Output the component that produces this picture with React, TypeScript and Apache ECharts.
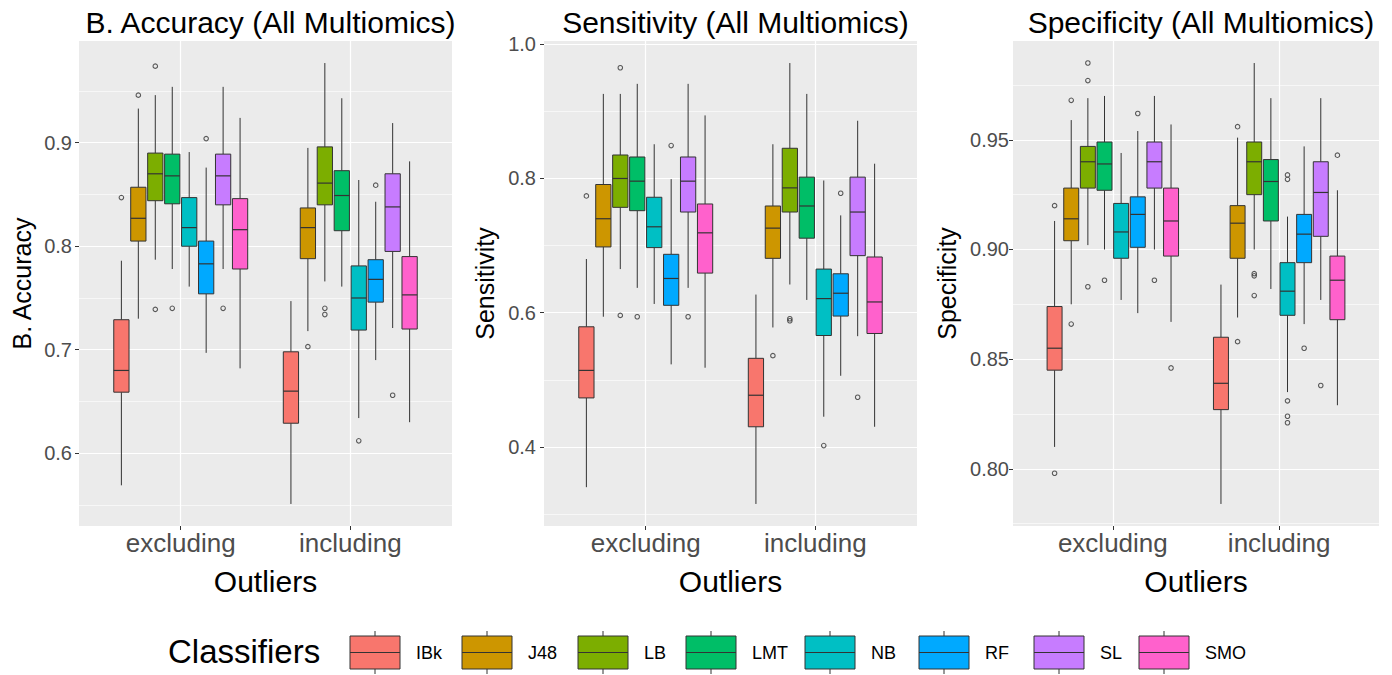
import { useEffect, useRef } from 'react';
import * as echarts from 'echarts';

const classifiers = ['IBk', 'J48', 'LB', 'LMT', 'NB', 'RF', 'SL', 'SMO'];
const groups = ['excluding', 'including'];
const colors = ['#F8766D', '#CD9600', '#7CAE00', '#00BE67', '#00BFC4', '#00A9FF', '#C77CFF', '#FF61CC'];

// each row: [lower whisker, Q1, median, Q3, upper whisker], one row per classifier
const accExcluding = [
  [0.569, 0.659, 0.680, 0.729, 0.786],
  [0.730, 0.805, 0.827, 0.857, 0.933],
  [0.787, 0.844, 0.870, 0.890, 0.946],
  [0.778, 0.841, 0.868, 0.889, 0.954],
  [0.761, 0.800, 0.818, 0.847, 0.891],
  [0.697, 0.754, 0.783, 0.805, 0.876],
  [0.778, 0.840, 0.868, 0.889, 0.954],
  [0.682, 0.778, 0.816, 0.846, 0.924],
];
const accIncluding = [
  [0.551, 0.629, 0.660, 0.698, 0.747],
  [0.718, 0.788, 0.818, 0.837, 0.895],
  [0.766, 0.840, 0.861, 0.896, 0.977],
  [0.761, 0.815, 0.849, 0.873, 0.943],
  [0.634, 0.719, 0.750, 0.781, 0.864],
  [0.690, 0.746, 0.768, 0.787, 0.843],
  [0.721, 0.795, 0.838, 0.870, 0.919],
  [0.630, 0.720, 0.753, 0.790, 0.882],
];
const accOutliersExcluding = [[0.847], [0.946], [0.974, 0.739], [0.740], [], [0.904], [0.740], []];
const accOutliersIncluding = [[], [0.703], [0.740, 0.734], [], [0.612], [0.859], [0.656], []];

const sensExcluding = [
  [0.340, 0.473, 0.514, 0.579, 0.680],
  [0.594, 0.698, 0.740, 0.791, 0.926],
  [0.665, 0.757, 0.800, 0.835, 0.926],
  [0.637, 0.752, 0.796, 0.832, 0.941],
  [0.613, 0.697, 0.728, 0.772, 0.851],
  [0.523, 0.611, 0.651, 0.687, 0.799],
  [0.637, 0.750, 0.796, 0.832, 0.941],
  [0.518, 0.659, 0.719, 0.762, 0.894],
];
const sensIncluding = [
  [0.315, 0.430, 0.477, 0.532, 0.627],
  [0.578, 0.681, 0.726, 0.759, 0.851],
  [0.642, 0.750, 0.786, 0.845, 0.972],
  [0.619, 0.711, 0.759, 0.802, 0.926],
  [0.445, 0.566, 0.621, 0.665, 0.797],
  [0.506, 0.595, 0.629, 0.658, 0.745],
  [0.565, 0.685, 0.750, 0.802, 0.886],
  [0.430, 0.569, 0.616, 0.683, 0.822],
];
const sensOutliersExcluding = [[0.774], [], [0.965, 0.596], [0.594], [], [0.849], [0.594], []];
const sensOutliersIncluding = [[], [0.536], [0.591, 0.588], [], [0.402], [0.778], [0.474], []];

const specExcluding = [
  [0.810, 0.845, 0.855, 0.874, 0.913],
  [0.875, 0.904, 0.914, 0.928, 0.959],
  [0.902, 0.928, 0.940, 0.947, 0.969],
  [0.900, 0.927, 0.939, 0.949, 0.970],
  [0.877, 0.896, 0.908, 0.921, 0.944],
  [0.871, 0.901, 0.916, 0.924, 0.954],
  [0.900, 0.928, 0.940, 0.949, 0.970],
  [0.867, 0.897, 0.913, 0.928, 0.957],
];
const specIncluding = [
  [0.784, 0.827, 0.839, 0.860, 0.884],
  [0.869, 0.896, 0.912, 0.920, 0.951],
  [0.900, 0.925, 0.940, 0.949, 0.985],
  [0.882, 0.913, 0.931, 0.941, 0.969],
  [0.835, 0.870, 0.881, 0.894, 0.915],
  [0.866, 0.894, 0.907, 0.916, 0.947],
  [0.877, 0.906, 0.926, 0.940, 0.969],
  [0.829, 0.868, 0.886, 0.897, 0.927],
];
const specOutliersExcluding = [[0.920, 0.798], [0.968, 0.866], [0.985, 0.977, 0.883], [0.886], [], [0.962], [0.886], [0.846]];
const specOutliersIncluding = [[], [0.956, 0.858], [0.889, 0.888, 0.879], [], [0.934, 0.932, 0.831, 0.824, 0.821], [0.855], [0.838], [0.943]];

const accMajorTicks = [0.6, 0.7, 0.8, 0.9];
const accMinorTicks = [0.55, 0.65, 0.75, 0.85, 0.95];
const sensMajorTicks = [0.4, 0.6, 0.8, 1.0];
const sensMinorTicks = [0.3, 0.5, 0.7, 0.9];
const specMajorTicks = [0.8, 0.85, 0.9, 0.95];
const specMinorTicks = [0.775, 0.825, 0.875, 0.925, 0.975];

const panels = [
  { title: 'B. Accuracy (All Multiomics)', yName: 'B. Accuracy', excl: accExcluding, incl: accIncluding, outExcl: accOutliersExcluding, outIncl: accOutliersIncluding, major: accMajorTicks, minor: accMinorTicks, decimals: 1 },
  { title: 'Sensitivity (All Multiomics)', yName: 'Sensitivity', excl: sensExcluding, incl: sensIncluding, outExcl: sensOutliersExcluding, outIncl: sensOutliersIncluding, major: sensMajorTicks, minor: sensMinorTicks, decimals: 1 },
  { title: 'Specificity (All Multiomics)', yName: 'Specificity', excl: specExcluding, incl: specIncluding, outExcl: specOutliersExcluding, outIncl: specOutliersIncluding, major: specMajorTicks, minor: specMinorTicks, decimals: 2 },
];

// layout (pixels)
const layout = [
  { left: 79, width: 373, nameGap: 45, labelMargin: 7 },
  { left: 544, width: 373, nameGap: 47, labelMargin: 8 },
  { left: 1013, width: 366, nameGap: 54, labelMargin: 4 },
];
const gridTop = 41;
const gridHeight = 485;
const legendKeyX = [350, 462, 578, 686, 805, 919, 1034, 1139];
const legendY = 636;
const FONT = "'Liberation Sans', Arial, Helvetica, sans-serif";

const DODGE = 0.8;
const BOX_FRAC = 0.9;
const nCls = classifiers.length;
const dodgeOffset = (i: number) => (i - (nCls - 1) / 2) * (DODGE / nCls);

function buildOption() {
  const grid: any[] = [];
  const xAxis: any[] = [];
  const yAxis: any[] = [];
  const series: any[] = [];
  const title: any[] = [];

  panels.forEach((p, k) => {
    const L = layout[k];
    grid.push({
      left: L.left, top: gridTop, width: L.width, height: gridHeight,
      show: true, backgroundColor: '#EBEBEB', borderWidth: 0,
      containLabel: false, outerBoundsMode: 'none',
    });
    title.push({
      text: p.title, left: L.left + L.width / 2, top: 2, textAlign: 'center',
      textStyle: { fontSize: 30, fontWeight: 'normal', color: '#000', fontFamily: FONT },
    });
    // data extent with ggplot-like 5% expansion
    const all: number[] = [];
    [p.excl, p.incl].forEach((arr) => arr.forEach((r) => all.push(...r)));
    [p.outExcl, p.outIncl].forEach((arr) => arr.forEach((r) => all.push(...r)));
    const dmin = Math.min(...all);
    const dmax = Math.max(...all);
    const pad = (dmax - dmin) * 0.05;

    xAxis.push({
      type: 'value', gridIndex: k, min: 0.4, max: 2.6,
      axisLine: { show: false },
      axisTick: { show: true, length: 4, lineStyle: { color: '#333333', width: 1 }, customValues: [1, 2] },
      axisLabel: {
        customValues: [1, 2], margin: 4, fontSize: 26, color: '#4D4D4D', fontFamily: FONT,
        formatter: (v: number) => groups[Math.round(v) - 1] ?? '',
      },
      splitLine: { show: true, lineStyle: { color: '#FFFFFF', width: 1.2 } },
      name: 'Outliers', nameLocation: 'middle', nameGap: 40,
      nameTextStyle: { fontSize: 30, color: '#000', fontFamily: FONT },
    });
    yAxis.push({
      type: 'value', gridIndex: k, min: dmin - pad, max: dmax + pad,
      axisLine: { show: false },
      axisTick: { show: true, length: 4, lineStyle: { color: '#333333', width: 1 }, customValues: p.major },
      axisLabel: {
        customValues: p.major, margin: L.labelMargin, fontSize: 20, color: '#4D4D4D', fontFamily: FONT,
        formatter: (v: number) => v.toFixed(p.decimals),
      },
      splitLine: { show: true, lineStyle: { color: '#FFFFFF', width: 1.2 } },
      name: p.yName, nameLocation: 'middle', nameGap: L.nameGap, nameRotate: 90,
      nameTextStyle: { fontSize: 25, color: '#000', fontFamily: FONT },
      z: 1,
    });
    yAxis.push({
      type: 'value', gridIndex: k, min: dmin - pad, max: dmax + pad,
      axisLine: { show: false },
      axisTick: { show: false, customValues: p.minor },
      axisLabel: { show: false, customValues: p.minor },
      splitLine: { show: true, lineStyle: { color: '#FFFFFF', width: 0.6 } },
      z: 0,
    });

    classifiers.forEach((name, i) => {
      const boxData = [
        [1, ...p.excl[i]],
        [2, ...p.incl[i]],
      ];
      series.push({
        type: 'custom', name, xAxisIndex: k, yAxisIndex: 2 * k, silent: true, clip: false,
        data: boxData,
        encode: { x: 0, y: [1, 2, 3, 4, 5] },
        renderItem: (_params: any, api: any) => {
          const xc = api.value(0) + dodgeOffset(i);
          const halfW = api.size([(DODGE / nCls) * BOX_FRAC, 0])[0] / 2;
          const [cx, yLo] = api.coord([xc, api.value(1)]);
          const yQ1 = api.coord([xc, api.value(2)])[1];
          const yMed = api.coord([xc, api.value(3)])[1];
          const yQ3 = api.coord([xc, api.value(4)])[1];
          const yHi = api.coord([xc, api.value(5)])[1];
          const line = { stroke: '#333333', lineWidth: 1 };
          return {
            type: 'group',
            children: [
              { type: 'line', shape: { x1: cx, y1: yHi, x2: cx, y2: yQ3 }, style: line },
              { type: 'line', shape: { x1: cx, y1: yQ1, x2: cx, y2: yLo }, style: line },
              { type: 'rect', shape: { x: cx - halfW, y: yQ3, width: 2 * halfW, height: yQ1 - yQ3 }, style: { fill: colors[i], stroke: '#333333', lineWidth: 1 } },
              { type: 'line', shape: { x1: cx - halfW, y1: yMed, x2: cx + halfW, y2: yMed }, style: { stroke: '#333333', lineWidth: 1.2 } },
            ],
          };
        },
        z: 3,
      });
      const outData: number[][] = [];
      p.outExcl[i].forEach((v) => outData.push([1 + dodgeOffset(i), v]));
      p.outIncl[i].forEach((v) => outData.push([2 + dodgeOffset(i), v]));
      series.push({
        type: 'scatter', name: name + ' outliers', xAxisIndex: k, yAxisIndex: 2 * k, silent: true,
        symbol: 'circle', symbolSize: 4.5,
        itemStyle: { color: 'rgba(0,0,0,0)', borderColor: '#333333', borderWidth: 1.1 },
        data: outData, z: 4,
      });
    });
  });

  const graphic: any[] = [
    {
      type: 'text', left: 168, top: legendY + 16.5 - 18,
      style: { text: 'Classifiers', fontSize: 33, fill: '#000', fontFamily: FONT },
    },
  ];
  classifiers.forEach((name, i) => {
    const x = legendKeyX[i];
    const w = 50, h = 33;
    graphic.push({
      type: 'group', x, y: legendY,
      children: [
        { type: 'line', shape: { x1: w / 2, y1: -5, x2: w / 2, y2: 0 }, style: { stroke: '#333333', lineWidth: 1 } },
        { type: 'line', shape: { x1: w / 2, y1: h, x2: w / 2, y2: h + 5 }, style: { stroke: '#333333', lineWidth: 1 } },
        { type: 'rect', shape: { x: 0, y: 0, width: w, height: h }, style: { fill: colors[i], stroke: '#333333', lineWidth: 1 } },
        { type: 'line', shape: { x1: 0, y1: h / 2, x2: w, y2: h / 2 }, style: { stroke: '#333333', lineWidth: 1.2 } },
        { type: 'text', x: w + 16, y: h / 2, style: { text: name, fontSize: 18, fill: '#000', fontFamily: FONT, verticalAlign: 'middle', align: 'left' } },
      ],
    });
  });

  return {
    animation: false,
    backgroundColor: '#FFFFFF',
    textStyle: { fontFamily: FONT },
    title, grid, xAxis, yAxis, series, graphic,
  };
}

export default function App() {
  const ref = useRef<HTMLDivElement>(null);
  useEffect(() => {
    if (!ref.current) return;
    const chart = echarts.init(ref.current, undefined, { renderer: 'svg' });
    chart.setOption(buildOption() as any);
    return () => chart.dispose();
  }, []);
  return <div ref={ref} style={{ position: 'fixed', left: 0, top: 0, width: 1392, height: 675 }} />;
}
